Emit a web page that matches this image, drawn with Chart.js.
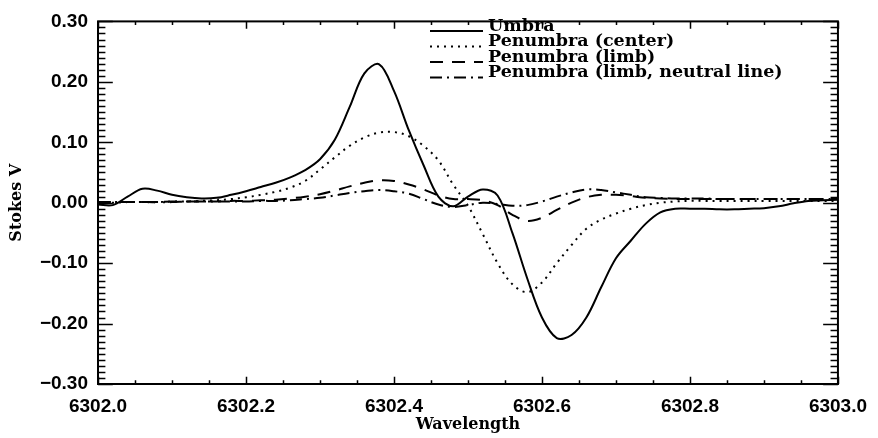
<!DOCTYPE html>
<html>
<head>
<meta charset="utf-8">
<script src="https://cdn.jsdelivr.net/npm/chart.js@4"></script>
<style>
  html, body { margin: 0; padding: 0; background: #fff; }
  #wrap { width: 878px; height: 438px; position: relative; }
</style>
</head>
<body>
<div id="wrap"><canvas id="stokes-chart"></canvas></div>
<script>
const wavelength = [
  6302.00, 6302.02, 6302.04, 6302.06, 6302.08, 6302.10, 6302.12, 6302.14, 6302.16, 6302.18,
  6302.20, 6302.22, 6302.24, 6302.26, 6302.28, 6302.30, 6302.32, 6302.34, 6302.36, 6302.38,
  6302.40, 6302.42, 6302.44, 6302.46, 6302.48, 6302.50, 6302.52, 6302.54, 6302.56, 6302.58,
  6302.60, 6302.62, 6302.64, 6302.66, 6302.68, 6302.70, 6302.72, 6302.74, 6302.76, 6302.78,
  6302.80, 6302.82, 6302.84, 6302.86, 6302.88, 6302.90, 6302.92, 6302.94, 6302.96, 6302.98,
  6303.00,
];

const umbra = [
  -0.003, -0.004, 0.010, 0.023, 0.020, 0.013, 0.009, 0.007, 0.008, 0.013,
  0.019, 0.026, 0.033, 0.042, 0.054, 0.072, 0.104, 0.158, 0.214, 0.229,
  0.185, 0.120, 0.062, 0.010, -0.006, 0.010, 0.022, 0.012, -0.050, -0.125,
  -0.190, -0.224, -0.219, -0.190, -0.140, -0.092, -0.063, -0.035, -0.016, -0.010,
  -0.010, -0.010, -0.011, -0.011, -0.010, -0.009, -0.006, -0.001, 0.003, 0.004,
  0.005,
];

const penumbraCenter = [
  0.000, 0.000, 0.001, 0.001, 0.001, 0.002, 0.002, 0.003, 0.004, 0.006,
  0.009, 0.013, 0.018, 0.025, 0.036, 0.055, 0.075, 0.094, 0.108, 0.116,
  0.117, 0.110, 0.094, 0.070, 0.030, -0.005, -0.052, -0.100, -0.135, -0.148,
  -0.132, -0.100, -0.070, -0.043, -0.028, -0.018, -0.010, -0.004, 0.000, 0.002,
  0.003, 0.003, 0.003, 0.003, 0.003, 0.003, 0.003, 0.003, 0.003, 0.003,
  0.003,
];

const penumbraLimb = [
  0.001, 0.001, 0.001, 0.001, 0.001, 0.002, 0.002, 0.002, 0.002, 0.003,
  0.003, 0.004, 0.005, 0.007, 0.010, 0.014, 0.020, 0.027, 0.033, 0.037,
  0.036, 0.030, 0.022, 0.012, 0.006, 0.006, 0.004, -0.004, -0.020, -0.030,
  -0.025, -0.012, 0.000, 0.009, 0.013, 0.013, 0.011, 0.008, 0.007, 0.006,
  0.006, 0.006, 0.006, 0.006, 0.006, 0.006, 0.006, 0.006, 0.006, 0.006,
  0.006,
];

const penumbraNeutral = [
  0.001, 0.001, 0.001, 0.001, 0.001, 0.001, 0.002, 0.002, 0.002, 0.002,
  0.002, 0.003, 0.003, 0.004, 0.006, 0.008, 0.012, 0.016, 0.019, 0.021,
  0.019, 0.015, 0.006, -0.003, -0.007, -0.004, 0.000, -0.002, -0.005, -0.004,
  0.002, 0.010, 0.017, 0.022, 0.021, 0.017, 0.013, 0.009, 0.008, 0.007,
  0.007, 0.007, 0.006, 0.006, 0.006, 0.006, 0.006, 0.006, 0.006, 0.006,
  0.006,
];

const seriesLabels = [
  "Umbra",
  "Penumbra (center)",
  "Penumbra (limb)",
  "Penumbra (limb, neutral line)",
];

const xTickStep = 0.2;
const xMinorStep = 0.05;
const yTickStep = 0.1;
const yMinorStep = 0.01;

const tickFont = { family: "'Liberation Sans', Arial, sans-serif", size: 19, weight: "bold" };
const titleFont = { family: "'DejaVu Serif', serif", size: 16, weight: "bold" };

function points(values) {
  return values.map((v, i) => ({ x: wavelength[i], y: v }));
}

// IDL style box with inward ticks on all four sides
const frameTicks = {
  id: "frameTicks",
  afterDraw(chart) {
    const { ctx, chartArea: a, scales } = chart;
    const xs = scales.x;
    const ys = scales.y;
    ctx.save();
    ctx.strokeStyle = "#000";
    ctx.lineWidth = 2;
    ctx.strokeRect(a.left, a.top, a.right - a.left, a.bottom - a.top);
    ctx.lineWidth = 1.5;
    const xLen = (a.bottom - a.top) * 0.02;
    const yLen = (a.right - a.left) * 0.02;
    ctx.beginPath();
    const nx = Math.round((xs.max - xs.min) / xMinorStep);
    for (let i = 0; i <= nx; i++) {
      const px = Math.round(xs.getPixelForValue(xs.min + i * xMinorStep)) + 0.5;
      const len = i % 4 === 0 ? xLen : xLen / 2;
      ctx.moveTo(px, a.bottom);
      ctx.lineTo(px, a.bottom - len);
      ctx.moveTo(px, a.top);
      ctx.lineTo(px, a.top + len);
    }
    const ny = Math.round((ys.max - ys.min) / yMinorStep);
    for (let i = 0; i <= ny; i++) {
      const py = Math.round(ys.getPixelForValue(ys.min + i * yMinorStep)) + 0.5;
      const len = i % 10 === 0 ? yLen : yLen / 2;
      ctx.moveTo(a.left, py);
      ctx.lineTo(a.left + len, py);
      ctx.moveTo(a.right, py);
      ctx.lineTo(a.right - len, py);
    }
    ctx.stroke();
    ctx.restore();
  },
};

// legend drawn inside the plot like the original
const insideLegend = {
  id: "insideLegend",
  afterDraw(chart) {
    const { ctx } = chart;
    const lineX0 = 430;
    const lineX1 = 483;
    const textX = 488;
    const rowY = [26, 41.5, 57, 72.5];
    ctx.save();
    ctx.font = "bold 17.5px 'DejaVu Serif', serif";
    ctx.textBaseline = "middle";
    ctx.fillStyle = "#000";
    chart.data.datasets.forEach((ds, i) => {
      const y = rowY[i];
      ctx.beginPath();
      ctx.strokeStyle = ds.borderColor;
      ctx.lineWidth = ds.borderWidth;
      ctx.setLineDash(ds.borderDash || []);
      ctx.moveTo(lineX0, y + 5);
      ctx.lineTo(lineX1, y + 5);
      ctx.stroke();
      ctx.setLineDash([]);
      ctx.fillText(ds.label, textX, y);
    });
    ctx.restore();
  },
};

const ctx = document.getElementById("stokes-chart").getContext("2d");
const stokesChart = new Chart(ctx, {
  type: "line",
  data: {
    datasets: [
      {
        label: seriesLabels[0],
        data: points(umbra),
        borderColor: "#000",
        borderWidth: 2,
      },
      {
        label: seriesLabels[1],
        data: points(penumbraCenter),
        borderColor: "#000",
        borderWidth: 2,
        borderDash: [2, 5],
      },
      {
        label: seriesLabels[2],
        data: points(penumbraLimb),
        borderColor: "#000",
        borderWidth: 2,
        borderDash: [13, 9],
      },
      {
        label: seriesLabels[3],
        data: points(penumbraNeutral),
        borderColor: "#000",
        borderWidth: 2,
        borderDash: [12, 5, 2, 5],
      },
    ],
  },
  options: {
    responsive: true,
    maintainAspectRatio: false,
    animation: false,
    layout: {
      padding: { left: 0, right: 37, top: 12, bottom: 0 },
    },
    elements: {
      point: { radius: 0 },
      line: { tension: 0.35, fill: false },
    },
    scales: {
      x: {
        type: "linear",
        min: 6302.0,
        max: 6303.0,
        afterFit: (s) => { s.height = 54; },
        grid: { display: false, drawTicks: false },
        border: { display: false },
        ticks: {
          stepSize: xTickStep,
          color: "#000",
          font: tickFont,
          padding: 11,
          maxRotation: 0,
          callback: (v) => v.toFixed(1),
        },
        title: {
          display: true,
          text: "Wavelength",
          color: "#000",
          font: titleFont,
          padding: { top: 4, bottom: 4 },
        },
      },
      y: {
        min: -0.3,
        max: 0.3,
        afterFit: (s) => { s.width = 98; },
        grid: { display: false, drawTicks: false },
        border: { display: false },
        ticks: {
          stepSize: yTickStep,
          color: "#000",
          font: tickFont,
          padding: 10,
          callback: (v) => (v < -1e-9 ? "\u2212" + Math.abs(v).toFixed(2) : Math.abs(v).toFixed(2)),
        },
        title: {
          display: true,
          text: "Stokes V",
          color: "#000",
          font: titleFont,
          padding: { top: 7, bottom: 7 },
        },
      },
    },
    plugins: {
      legend: { display: false },
      tooltip: { enabled: false },
    },
  },
  plugins: [frameTicks, insideLegend],
});
</script>
</body>
</html>
